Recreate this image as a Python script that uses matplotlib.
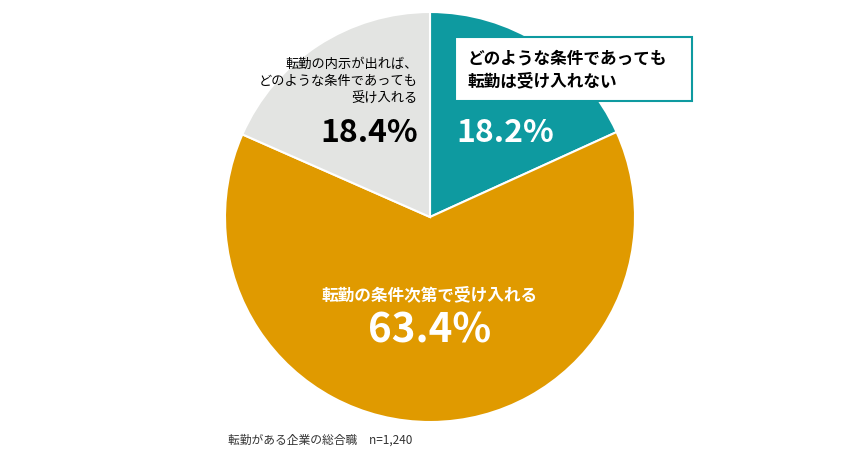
import matplotlib.pyplot as plt
from matplotlib.patches import Rectangle

plt.rcParams['font.family'] = 'Noto Sans CJK JP'

labels = ['どのような条件であっても\n転勤は受け入れない',
          '転勤の条件次第で受け入れる',
          '転勤の内示が出れば、\nどのような条件であっても\n受け入れる']
values = [18.2, 63.4, 18.4]
colors = ['#0E9AA0', '#E09A00', '#E3E4E2']
note = '転勤がある企業の総合職　n=1,240'

W, H = 865, 460
fig = plt.figure(figsize=(W / 100, H / 100), dpi=100)
ax = fig.add_axes([0, 0, 1, 1])
ax.set_xlim(0, W)
ax.set_ylim(0, H)
ax.set_aspect('equal')
ax.axis('off')

def y(py):
    return H - py

ax.pie(values, colors=colors, startangle=90, counterclock=False,
       center=(430, y(218)), radius=205, frame=True,
       wedgeprops=dict(edgecolor='white', linewidth=1.5))
ax.set_xlim(0, W)
ax.set_ylim(0, H)
ax.axis('off')

# teal slice label in a box
ax.add_patch(Rectangle((455, y(102)), 237, 64, facecolor='white',
                       edgecolor=colors[0], linewidth=1.5, zorder=3))
ax.text(468, y(70), labels[0], fontsize=12, fontweight='bold', ha='left',
        va='center', linespacing=1.35, zorder=4)
ax.text(456, y(133), f'{values[0]}%', fontsize=23, fontweight='bold',
        color='white', ha='left', va='center')

# gray slice
ax.text(418, y(82), labels[2], fontsize=9.5, ha='right', va='center',
        linespacing=1.45)
ax.text(418, y(133), f'{values[2]}%', fontsize=23, fontweight='bold',
        ha='right', va='center')

# orange slice
ax.text(430, y(295), labels[1], fontsize=12, fontweight='bold',
        color='white', ha='center', va='center')
ax.text(430, y(331), f'{values[1]}%', fontsize=29, fontweight='bold',
        color='white', ha='center', va='center')

ax.text(228, y(440), note, fontsize=8.5, ha='left', va='center', color='#333333')

fig.savefig('out.png', dpi=100)
